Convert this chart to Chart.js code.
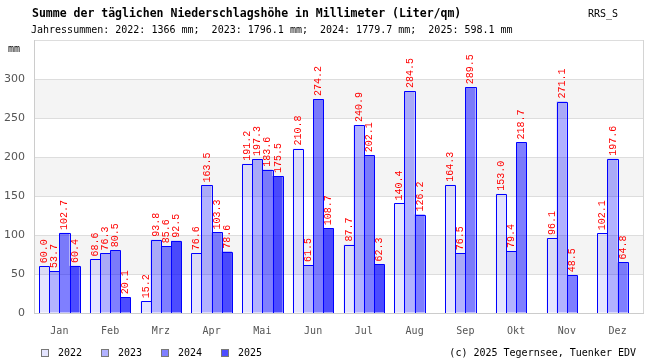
<!DOCTYPE html>
<html><head><meta charset="utf-8">
<style>html,body{margin:0;padding:0;background:#fff;}#wrap{width:650px;height:360px;position:relative;}</style>
<script src="https://cdn.jsdelivr.net/npm/chart.js@4/dist/chart.umd.min.js"></script>
</head><body><div id="wrap"><canvas id="c" width="650" height="360"></canvas></div>
<script>
const months = ['Jan','Feb','Mrz','Apr','Mai','Jun','Jul','Aug','Sep','Okt','Nov','Dez'];
const years = ['2022','2023','2024','2025'];
const rain2022 = [60.0,68.6,15.2,76.6,191.2,210.8,87.7,140.4,164.3,153.0,96.1,102.1];
const rain2023 = [53.7,76.3,93.8,163.5,197.3,61.5,240.9,284.5,76.5,79.4,271.1,197.6];
const rain2024 = [102.7,80.5,85.6,103.3,183.6,274.2,202.1,126.2,289.5,218.7,48.5,64.8];
const rain2025 = [60.4,20.1,92.5,78.6,175.5,108.7,62.3,null,null,null,null,null];
const yearTotals = ['1366','1796.1','1779.7','598.1'];
const yMin = 0, yMax = 350, yStep = 50;
const titleText = 'Summe der täglichen Niederschlagshöhe in Millimeter (Liter/qm)';
const codeText = 'RRS_S';
const unitText = 'mm';
const creditText = '(c) 2025 Tegernsee, Tuenker EDV';

const fills = ['rgba(0,0,255,0.1)','rgba(0,0,255,0.3)','rgba(0,0,255,0.5)','rgba(0,0,255,0.7)'];
const series = [rain2022, rain2023, rain2024, rain2025];
const MONO = '"DejaVu Sans Mono", monospace';

const bandPlugin = {
  id: 'bands',
  beforeDraw(chart) {
    const {ctx, chartArea: a, scales: {y}} = chart;
    const t = y.ticks.map(k => k.value);
    ctx.save();
    ctx.fillStyle = '#f4f4f4';
    for (let i = 1; i < t.length - 1; i += 2) {
      const p1 = y.getPixelForValue(t[i]), p2 = y.getPixelForValue(t[i + 1]);
      ctx.fillRect(a.left, p2, a.right - a.left, p1 - p2);
    }
    ctx.restore();
  }
};

const outlinePlugin = {
  id: 'outlines',
  afterDatasetsDraw(chart) {
    const ctx = chart.ctx;
    ctx.save();
    ctx.strokeStyle = '#0000ff';
    ctx.lineWidth = 1;
    chart.data.datasets.forEach((ds, di) => {
      const meta = chart.getDatasetMeta(di);
      meta.data.forEach((el, i) => {
        const v = ds.data[i];
        if (v === null || v === undefined) return;
        const l = Math.round(el.x - el.width / 2) + 0.5;
        const r = Math.round(el.x + el.width / 2) + 0.5;
        const t = Math.round(el.y) + 0.5;
        const b = Math.round(el.base);
        ctx.beginPath();
        ctx.moveTo(l, b);
        ctx.lineTo(l, t);
        ctx.lineTo(r, t);
        ctx.lineTo(r, b);
        ctx.stroke();
      });
    });
    ctx.restore();
  }
};

const valuePlugin = {
  id: 'values',
  afterDatasetsDraw(chart) {
    const ctx = chart.ctx;
    ctx.save();
    ctx.fillStyle = '#ff0000';
    ctx.font = '10px "Liberation Mono", monospace';
    ctx.textAlign = 'left';
    ctx.textBaseline = 'middle';
    chart.data.datasets.forEach((ds, di) => {
      const meta = chart.getDatasetMeta(di);
      meta.data.forEach((el, i) => {
        const v = ds.data[i];
        if (v === null || v === undefined) return;
        ctx.save();
        ctx.translate(Math.round(el.x) + 0.5, el.y - 3);
        ctx.rotate(-Math.PI / 2);
        ctx.fillText(v.toFixed(1), 0, 0);
        ctx.restore();
      });
    });
    ctx.restore();
  }
};

const textPlugin = {
  id: 'texts',
  afterDraw(chart) {
    const {ctx, chartArea: a} = chart;
    ctx.save();
    ctx.strokeStyle = '#d4d4d4';
    ctx.lineWidth = 1;
    ctx.beginPath();
    ctx.moveTo(Math.round(a.right) + 0.5, a.top);
    ctx.lineTo(Math.round(a.right) + 0.5, a.bottom);
    ctx.stroke();

    ctx.fillStyle = '#000';
    ctx.textBaseline = 'alphabetic';
    ctx.textAlign = 'left';
    ctx.font = 'bold 11.5px ' + MONO;
    ctx.fillText(titleText, 32, 17);
    ctx.font = '10px ' + MONO;
    ctx.fillText(codeText, 588, 17);
    const sub = 'Jahressummen: ' + years.map((yr, i) => yr + ': ' + yearTotals[i] + ' mm').join(';  ');
    ctx.fillText(sub, 31, 32.5);
    ctx.fillText(unitText, 8, 52);

    ctx.textBaseline = 'middle';
    chart.data.datasets.forEach((ds, i) => {
      const x = 41 + i * 60;
      ctx.fillStyle = '#fff';
      ctx.fillRect(x, 349, 7, 7);
      ctx.fillStyle = ds.backgroundColor;
      ctx.fillRect(x, 349, 7, 7);
      ctx.strokeStyle = '#777';
      ctx.strokeRect(x + 0.5, 349.5, 7, 7);
      ctx.fillStyle = '#000';
      ctx.fillText(ds.label, x + 17, 353);
    });
    ctx.textAlign = 'right';
    ctx.fillText(creditText, 636, 353);
    ctx.restore();
  }
};

new Chart(document.getElementById('c'), {
  type: 'bar',
  data: {
    labels: months,
    datasets: years.map((yr, i) => ({
      label: yr,
      data: series[i],
      backgroundColor: fills[i],
      borderWidth: 0,
      inflateAmount: 0,
      categoryPercentage: 0.8,
      barPercentage: 1.0
    }))
  },
  options: {
    responsive: false,
    animation: false,
    events: [],
    layout: {padding: {top: 40, left: 0, right: 7, bottom: 17}},
    plugins: {legend: {display: false}, tooltip: {enabled: false}, title: {display: false}},
    scales: {
      x: {
        grid: {display: false, drawTicks: false},
        border: {color: '#cccccc'},
        ticks: {color: '#555', font: {family: MONO, size: 10}, padding: 12, maxRotation: 0, autoSkip: false},
        afterFit(s) { s.height = 30; }
      },
      y: {
        min: yMin, max: yMax,
        grid: {color: '#dddddd', drawTicks: false},
        border: {color: '#cccccc'},
        ticks: {stepSize: yStep, padding: 9, color: '#555', font: {family: '"DejaVu Sans", sans-serif', size: 11},
          callback: v => (v === yMax ? '' : v)},
        afterFit(s) { s.width = 34; }
      }
    }
  },
  plugins: [bandPlugin, outlinePlugin, valuePlugin, textPlugin]
});
</script></body></html>
